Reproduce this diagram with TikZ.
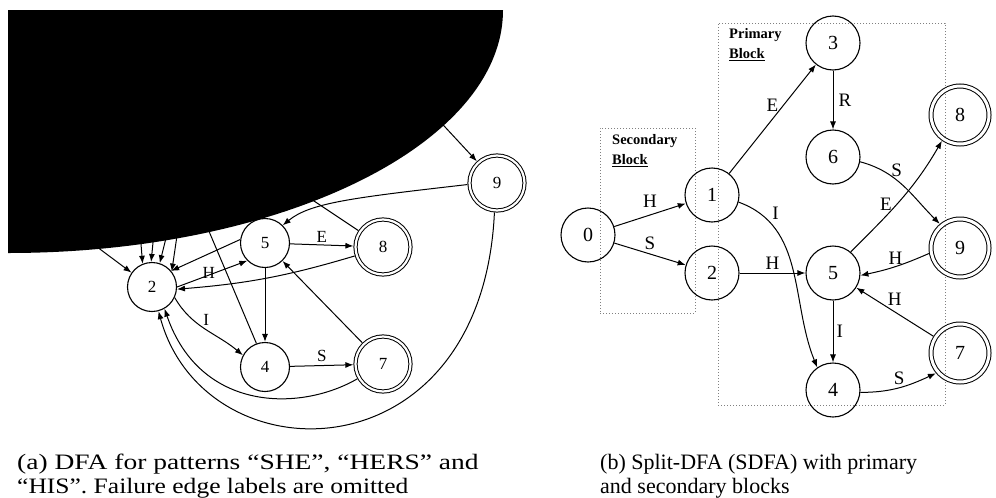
\documentclass[tikz,border=0pt]{standalone}
\usepackage{fontspec}
\setmainfont{Liberation Serif}
\usetikzlibrary{arrows.meta}
\begin{document}
\begin{tikzpicture}[x=1pt,y=1pt,
  every node/.style={inner sep=0pt},
  lst/.style={circle,draw,line width=1.1pt,minimum size=49pt,font=\fontsize{17}{17}\selectfont},
  lacc/.style={circle,draw,double,double distance=2.2pt,line width=1pt,minimum size=55pt,outer sep=2.1pt,font=\fontsize{17}{17}\selectfont},
  rst/.style={circle,draw,line width=1.1pt,minimum size=54pt,font=\fontsize{20}{20}\selectfont},
  racc/.style={circle,draw,double,double distance=3pt,line width=1pt,minimum size=58pt,outer sep=2.5pt,font=\fontsize{20}{20}\selectfont},
  arr/.style={line width=1pt,-{Latex[length=8pt,width=6pt]}},
  plainln/.style={line width=1pt},
  lab/.style={font=\fontsize{17}{17}\selectfont,inner sep=1pt},
  rlab/.style={font=\fontsize{19}{19}\selectfont,inner sep=1pt},
  blockbox/.style={draw=gray,dotted,line width=1pt},
  blocklab/.style={font=\fontsize{14.5}{20}\selectfont\bfseries,align=left,anchor=north west},
  captxt/.style={font=\fontsize{22}{28}\selectfont,anchor=base west}
]
\useasboundingbox (0,0) rectangle (996,-498);

% ---------- (a) ----------
\node[lst]  (L2) at (152,-287) {2};
\node[lst]  (L5) at (265,-243) {5};
\node[lacc] (L8) at (383,-247) {8};
\node[lacc] (L9) at (497,-183) {9};
\node[lst]  (L4) at (265,-367) {4};
\node[lacc] (L7) at (383,-364) {7};

\coordinate (hA) at (420,-100);
\coordinate (hB) at (290,-185);
\coordinate (hC) at (179,-222);
\coordinate (hD) at (85,-238);
\coordinate (hE1) at (140,-232);
\coordinate (hE2) at (154,-232);
\coordinate (hE3) at (168,-230);
\coordinate (hF) at (200,-210);

\draw[arr] (hA) -- (L9);
\draw[plainln] (L8) -- (hB);
\draw[arr] (hC) -- (L2.38);
\draw[arr] (hD) -- (L2.145);
\draw[arr] (hE1) -- (L2.112);
\draw[arr] (hE2) -- (L2.92);
\draw[arr] (hE3) -- (L2.72);
\draw[plainln] (hF) -- (L4.110);

% obscuring blob
\fill[black] (8,-10) -- (503,-10) .. controls (503,-144.2) and (281.4,-253) .. (8,-253) -- cycle;

\draw[arr] (L9.183) .. controls (350,-198) and (310,-203) .. (L5.45);
\draw[arr] (L5) -- node[lab,above=1pt]{E} (L8);
\draw[arr] (L8) to[bend left=6] (L2.-5);
\draw[arr] (L2.0) -- node[lab,above=-5pt,pos=0.45]{H} (L5.225);
\draw[arr] (L5.172) -- (L2.40);
\draw[arr] (L2.-25) to[out=-60,in=140] node[lab,pos=0.45,above right=0pt]{I} (L4.152);
\draw[arr] (L5) -- (L4);
\draw[arr] (L4) -- node[lab,above=2pt]{S} (L7);
\draw[arr] (L7) -- (L5);
\draw[arr] (L7.210) .. controls (300,-412) and (200,-412) .. (L2.-60);
\draw[arr] (L9.-95) .. controls (482,-480) and (205,-480) .. (L2.-75);

% ---------- (b) ----------
\node[blockbox,minimum width=95pt,minimum height=185pt] (secbox) at (647.5,-220.5) {};
\node[blockbox,minimum width=227pt,minimum height=382pt] (pribox) at (831.5,-214) {};
\node[blocklab] (seclab) at (612,-134) {Secondary\\\underline{Block}};
\node[blocklab] (prilab) at (729,-28) {Primary\\\underline{Block}};

\node[rst]  (R0) at (588,-235) {0};
\node[rst]  (R1) at (712,-195) {1};
\node[rst]  (R2) at (712,-273) {2};
\node[rst]  (R3) at (833,-43) {3};
\node[rst]  (R6) at (833,-157) {6};
\node[racc] (R8) at (960,-115) {8};
\node[racc] (R9) at (960,-248) {9};
\node[rst]  (R5) at (833,-273) {5};
\node[racc] (R7) at (960,-353) {7};
\node[rst]  (R4) at (833,-390) {4};

\draw[arr] (R0) -- node[rlab,above=6pt]{H} (R1);
\draw[arr] (R0) -- node[rlab,above=3pt]{S} (R2);
\draw[arr] (R1) -- node[rlab,above=6pt]{E} (R3);
\draw[arr] (R3) -- node[rlab,right=4pt]{R} (R6);
\draw[arr] (R1.-15) to[out=-20,in=112] node[rlab,pos=0.2,above right=1pt]{I} (R4.125);
\draw[arr] (R2) -- node[rlab,above=2pt]{H} (R5);
\draw[arr] (R6.-10) to[out=-15,in=135] node[rlab,pos=0.4,above=2pt]{S} (R9.130);
\draw[arr] (R5.50) to[out=45,in=240] node[rlab,pos=0.45,left=3pt]{E} (R8.235);
\draw[arr] (R9.190) to[bend left=6] node[rlab,above=1pt]{H} (R5.-5);
\draw[arr] (R7) -- node[rlab,above=5pt]{H} (R5);
\draw[arr] (R5) -- node[rlab,right=2pt]{I} (R4);
\draw[arr] (R4.-5) to[out=0,in=205] node[rlab,above=1pt]{S} (R7.220);

% ---------- captions ----------
\node[captxt] (capa1) at (17,-469) {\scalebox{1.25}[1]{(a) DFA for patterns “SHE”, “HERS” and}};
\node[captxt] (capa2) at (17,-493) {\scalebox{1.16}[1]{“HIS”. Failure edge labels are omitted}};
\node[captxt] (capb1) at (600,-469) {(b) Split-DFA (SDFA) with primary};
\node[captxt] (capb2) at (600,-493) {and secondary blocks};
\end{tikzpicture}
\end{document}
